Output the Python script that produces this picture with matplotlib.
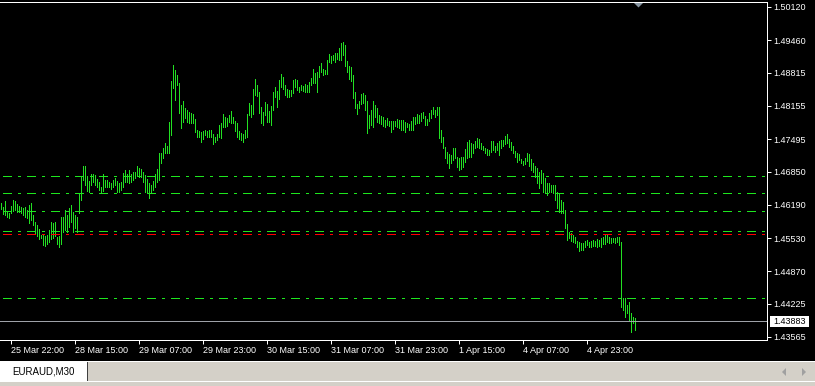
import matplotlib
matplotlib.use('Agg')
import matplotlib.pyplot as plt
from matplotlib.patches import Rectangle, Polygon

W, H = 815, 386

# EURAUD M30 bars (high / low), oldest first
highs = [
    1.4627, 1.4623, 1.4615, 1.4627, 1.4607, 1.4603, 1.4617, 1.4629, 1.4627, 1.4621,
    1.4617, 1.4615, 1.4613, 1.4615, 1.4609, 1.4619, 1.4623, 1.4599, 1.4585, 1.4579,
    1.4571, 1.4559, 1.4559, 1.4557, 1.4559, 1.4569, 1.4585, 1.4583, 1.4585, 1.4555,
    1.4557, 1.4595, 1.4595, 1.4609, 1.4599, 1.4613, 1.4619, 1.4605, 1.4599, 1.4595,
    1.4643, 1.4676, 1.4696, 1.4696, 1.4676, 1.4666, 1.4680, 1.4680, 1.4678, 1.4670,
    1.4664, 1.4654, 1.4680, 1.4668, 1.4668, 1.4664, 1.4662, 1.4668, 1.4672, 1.4666,
    1.4662, 1.4664, 1.4682, 1.4688, 1.4680, 1.4688, 1.4680, 1.4684, 1.4684, 1.4696,
    1.4692, 1.4690, 1.4684, 1.4678, 1.4670, 1.4662, 1.4658, 1.4666, 1.4680, 1.4690,
    1.4722, 1.4722, 1.4732, 1.4742, 1.4736, 1.4784, 1.4865, 1.4897, 1.4887, 1.4877,
    1.4861, 1.4817, 1.4825, 1.4811, 1.4807, 1.4803, 1.4801, 1.4799, 1.4789, 1.4768,
    1.4766, 1.4764, 1.4766, 1.4768, 1.4766, 1.4768, 1.4768, 1.4760, 1.4754, 1.4760,
    1.4778, 1.4782, 1.4799, 1.4793, 1.4791, 1.4797, 1.4805, 1.4793, 1.4786, 1.4782,
    1.4766, 1.4762, 1.4760, 1.4768, 1.4799, 1.4821, 1.4817, 1.4849, 1.4869, 1.4857,
    1.4843, 1.4813, 1.4803, 1.4823, 1.4819, 1.4805, 1.4815, 1.4843, 1.4853, 1.4845,
    1.4867, 1.4879, 1.4873, 1.4857, 1.4849, 1.4847, 1.4847, 1.4867, 1.4869, 1.4867,
    1.4853, 1.4857, 1.4855, 1.4859, 1.4857, 1.4863, 1.4871, 1.4889, 1.4881, 1.4883,
    1.4895, 1.4901, 1.4889, 1.4887, 1.4907, 1.4919, 1.4915, 1.4917, 1.4921, 1.4921,
    1.4931, 1.4940, 1.4942, 1.4937, 1.4905, 1.4895, 1.4893, 1.4877, 1.4843, 1.4819,
    1.4825, 1.4839, 1.4841, 1.4837, 1.4825, 1.4797, 1.4807, 1.4825, 1.4817, 1.4811,
    1.4797, 1.4795, 1.4793, 1.4788, 1.4791, 1.4786, 1.4786, 1.4786, 1.4786, 1.4789,
    1.4788, 1.4788, 1.4788, 1.4784, 1.4782, 1.4780, 1.4786, 1.4793, 1.4793, 1.4799,
    1.4797, 1.4801, 1.4803, 1.4795, 1.4789, 1.4801, 1.4807, 1.4813, 1.4807, 1.4813,
    1.4813, 1.4768, 1.4754, 1.4734, 1.4724, 1.4720, 1.4718, 1.4732, 1.4732, 1.4714,
    1.4712, 1.4714, 1.4714, 1.4730, 1.4744, 1.4748, 1.4742, 1.4740, 1.4746, 1.4752,
    1.4750, 1.4742, 1.4736, 1.4732, 1.4730, 1.4728, 1.4746, 1.4746, 1.4736, 1.4742,
    1.4746, 1.4748, 1.4748, 1.4756, 1.4760, 1.4750, 1.4744, 1.4736, 1.4726, 1.4722,
    1.4720, 1.4710, 1.4706, 1.4712, 1.4722, 1.4720, 1.4710, 1.4702, 1.4696, 1.4692,
    1.4684, 1.4688, 1.4682, 1.4672, 1.4662, 1.4662, 1.4658, 1.4658, 1.4658, 1.4645,
    1.4643, 1.4629, 1.4625, 1.4609, 1.4581, 1.4565, 1.4563, 1.4559, 1.4555, 1.4547,
    1.4545, 1.4543, 1.4543, 1.4547, 1.4549, 1.4545, 1.4547, 1.4549, 1.4547, 1.4551,
    1.4549, 1.4553, 1.4555, 1.4561, 1.4561, 1.4555, 1.4553, 1.4553, 1.4553, 1.4555,
    1.4555, 1.4545, 1.4434, 1.4434, 1.4420, 1.4426, 1.4404, 1.4396, 1.4394,
]
lows = [
    1.4617, 1.4611, 1.4601, 1.4599, 1.4595, 1.4593, 1.4603, 1.4607, 1.4609, 1.4605,
    1.4605, 1.4603, 1.4599, 1.4595, 1.4593, 1.4583, 1.4589, 1.4579, 1.4561, 1.4557,
    1.4551, 1.4553, 1.4539, 1.4537, 1.4541, 1.4545, 1.4551, 1.4553, 1.4557, 1.4541,
    1.4535, 1.4541, 1.4565, 1.4569, 1.4565, 1.4575, 1.4585, 1.4565, 1.4573, 1.4565,
    1.4603, 1.4629, 1.4668, 1.4658, 1.4647, 1.4645, 1.4658, 1.4664, 1.4658, 1.4654,
    1.4649, 1.4643, 1.4647, 1.4654, 1.4654, 1.4654, 1.4650, 1.4654, 1.4658, 1.4645,
    1.4645, 1.4649, 1.4654, 1.4664, 1.4664, 1.4662, 1.4664, 1.4668, 1.4672, 1.4676,
    1.4674, 1.4674, 1.4664, 1.4645, 1.4645, 1.4633, 1.4643, 1.4649, 1.4654, 1.4664,
    1.4668, 1.4702, 1.4712, 1.4722, 1.4722, 1.4722, 1.4758, 1.4851, 1.4827, 1.4857,
    1.4801, 1.4772, 1.4784, 1.4791, 1.4784, 1.4782, 1.4782, 1.4782, 1.4764, 1.4754,
    1.4754, 1.4744, 1.4750, 1.4758, 1.4754, 1.4754, 1.4754, 1.4740, 1.4744, 1.4748,
    1.4754, 1.4752, 1.4774, 1.4774, 1.4776, 1.4784, 1.4782, 1.4782, 1.4766, 1.4754,
    1.4750, 1.4748, 1.4744, 1.4752, 1.4754, 1.4797, 1.4793, 1.4799, 1.4837, 1.4835,
    1.4801, 1.4782, 1.4778, 1.4797, 1.4784, 1.4784, 1.4778, 1.4807, 1.4833, 1.4813,
    1.4829, 1.4853, 1.4849, 1.4837, 1.4833, 1.4833, 1.4835, 1.4841, 1.4853, 1.4847,
    1.4843, 1.4847, 1.4845, 1.4843, 1.4843, 1.4843, 1.4857, 1.4861, 1.4861, 1.4843,
    1.4873, 1.4883, 1.4877, 1.4879, 1.4879, 1.4903, 1.4901, 1.4907, 1.4903, 1.4909,
    1.4907, 1.4907, 1.4917, 1.4895, 1.4883, 1.4869, 1.4865, 1.4831, 1.4811, 1.4799,
    1.4811, 1.4819, 1.4821, 1.4807, 1.4762, 1.4772, 1.4778, 1.4774, 1.4793, 1.4784,
    1.4782, 1.4780, 1.4776, 1.4774, 1.4778, 1.4776, 1.4764, 1.4770, 1.4776, 1.4774,
    1.4772, 1.4768, 1.4768, 1.4764, 1.4774, 1.4768, 1.4768, 1.4768, 1.4780, 1.4782,
    1.4782, 1.4786, 1.4791, 1.4778, 1.4778, 1.4786, 1.4791, 1.4799, 1.4793, 1.4797,
    1.4752, 1.4744, 1.4732, 1.4712, 1.4702, 1.4692, 1.4702, 1.4708, 1.4712, 1.4694,
    1.4688, 1.4690, 1.4694, 1.4704, 1.4712, 1.4714, 1.4714, 1.4722, 1.4732, 1.4734,
    1.4732, 1.4730, 1.4728, 1.4722, 1.4718, 1.4718, 1.4724, 1.4728, 1.4724, 1.4728,
    1.4718, 1.4732, 1.4736, 1.4740, 1.4742, 1.4734, 1.4728, 1.4722, 1.4714, 1.4704,
    1.4708, 1.4702, 1.4698, 1.4700, 1.4706, 1.4696, 1.4688, 1.4684, 1.4674, 1.4662,
    1.4652, 1.4662, 1.4645, 1.4643, 1.4639, 1.4645, 1.4645, 1.4643, 1.4629, 1.4613,
    1.4605, 1.4603, 1.4603, 1.4573, 1.4549, 1.4553, 1.4547, 1.4545, 1.4543, 1.4535,
    1.4527, 1.4529, 1.4529, 1.4535, 1.4539, 1.4535, 1.4535, 1.4537, 1.4537, 1.4535,
    1.4537, 1.4535, 1.4541, 1.4541, 1.4545, 1.4543, 1.4543, 1.4545, 1.4543, 1.4545,
    1.4539, 1.4416, 1.4410, 1.4396, 1.4404, 1.4390, 1.4366, 1.4384, 1.4370,
]

time_labels = ['25 Mar 22:00', '28 Mar 15:00', '29 Mar 07:00', '29 Mar 23:00',
               '30 Mar 15:00', '31 Mar 07:00', '31 Mar 23:00', '1 Apr 15:00',
               '4 Apr 07:00', '4 Apr 23:00']
label_bars = [6, 38, 70, 102, 134, 166, 198, 230, 262, 294]

price_ticks = [1.50120, 1.49460, 1.48815, 1.48155, 1.47495, 1.46850,
               1.46190, 1.45530, 1.44870, 1.44225, 1.43565]
green_levels = [1.46763, 1.46425, 1.46068, 1.45661, 1.44340]
red_levels = [1.45611]
bid = 1.43883
symbol = 'EURAUD,M30'

BAR_COL = '#22e022'
LINE_COL = '#1ee61e'
FONT = 'Liberation Sans'


def fx(x):
    return x / W


def fy(y):
    return 1 - y / H


fig = plt.figure(figsize=(W / 100, H / 100), dpi=100, facecolor='black')
ax = fig.add_axes([0, fy(340), fx(767), (340 - 2) / H], facecolor='black')

idx = list(range(len(highs)))
ax.vlines(idx, lows, highs, colors=BAR_COL, linewidth=0.72, antialiased=False)

dash = (20.7, (8, 7, 2, 7))
for lvl in green_levels:
    ax.axhline(lvl, color=LINE_COL, lw=0.72, linestyle=dash, antialiased=False)
for lvl in red_levels:
    ax.axhline(lvl, color='#ff0000', lw=0.72, linestyle=dash, antialiased=False)
ax.axhline(bid, color='#9ea2a8', lw=0.72, antialiased=False)

ax.set_xlim(0.35, 383.85)
ax.set_ylim(1.43505, 1.50219)

for side in ['top', 'right', 'bottom']:
    ax.spines[side].set_color('white')
    ax.spines[side].set_linewidth(0.72)
ax.spines['left'].set_visible(False)

ax.yaxis.tick_right()
ax.set_yticks(price_ticks, [f'{p:.5f}' for p in price_ticks])
ax.tick_params(axis='y', direction='out', length=2.88, width=0.72,
               colors='white', labelsize=6.5, pad=1.44)
ax.set_xticks(label_bars, time_labels)
ax.tick_params(axis='x', direction='out', length=2.88, width=0.72,
               colors='white', labelsize=6.5, pad=1.5)
for lab in ax.get_xticklabels():
    lab.set_ha('left')
    lab.set_fontfamily(FONT)
for lab in ax.get_yticklabels():
    lab.set_fontfamily(FONT)

# bid price box
fig.add_artist(Rectangle((fx(770), fy(327)), fx(809) - fx(770), fy(316) - fy(327),
                         transform=fig.transFigure, facecolor='white', edgecolor='none'))
fig.text(fx(773), fy(321.5), f'{bid:.5f}', color='black', fontsize=6.5,
         family=FONT, ha='left', va='center')

# chart shift marker
fig.add_artist(Polygon([(fx(634), fy(3)), (fx(643), fy(3)), (fx(638.5), fy(7.5))],
                       closed=True, transform=fig.transFigure,
                       facecolor='#8896a2', edgecolor='none'))

# bottom tab bar
fig.add_artist(Rectangle((0, 0), 1, fy(361), transform=fig.transFigure,
                         facecolor='#d4d0c8', edgecolor='none'))
fig.add_artist(Rectangle((0, fy(362)), 1, fy(361) - fy(362), transform=fig.transFigure,
                         facecolor='white', edgecolor='none'))
fig.add_artist(Rectangle((0, fy(382)), 1, fy(381) - fy(382), transform=fig.transFigure,
                         facecolor='white', edgecolor='none'))
fig.add_artist(Rectangle((0, fy(381)), fx(87), fy(362) - fy(381), transform=fig.transFigure,
                         facecolor='white', edgecolor='none'))
fig.add_artist(Rectangle((fx(87), fy(381)), fx(1), fy(362) - fy(381), transform=fig.transFigure,
                         facecolor='#404040', edgecolor='none'))
fig.text(fx(43), fy(372), symbol, color='black', fontsize=7, family=FONT,
         ha='center', va='center')

# scroll arrows
fig.add_artist(Polygon([(fx(782), fy(372)), (fx(786), fy(368)), (fx(786), fy(376))],
                       closed=True, transform=fig.transFigure,
                       facecolor='#a0a0a0', edgecolor='none'))
fig.add_artist(Polygon([(fx(806), fy(372)), (fx(802), fy(368)), (fx(802), fy(376))],
                       closed=True, transform=fig.transFigure,
                       facecolor='#a0a0a0', edgecolor='none'))

fig.savefig('out.png', dpi=100, facecolor='black')
